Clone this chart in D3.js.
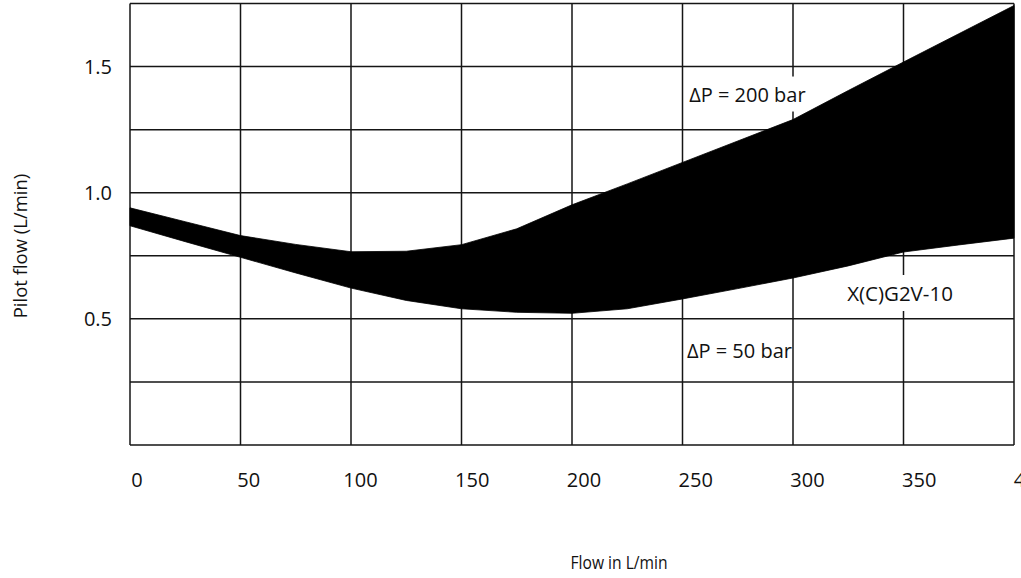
<!DOCTYPE html>
<html>
<head>
<meta charset="utf-8">
<script src="https://cdn.jsdelivr.net/npm/d3@7"></script>
<style>
  html, body { margin: 0; padding: 0; background: #fff; }
  svg { display: block; }
  text { font-family: "Open Sans", "Noto Sans", sans-serif; fill: #111; }
</style>
</head>
<body>
<svg id="chart" width="1021" height="578"></svg>
<script>
// ---- data ----
const flow = [0, 25, 50, 75, 100, 125, 150, 175, 200, 225, 250, 275, 300, 325, 350, 375, 400];
const pilot200 = [0.94, 0.885, 0.83, 0.795, 0.766, 0.768, 0.794, 0.857, 0.952, 1.035, 1.12, 1.205, 1.29, 1.405, 1.518, 1.63, 1.742];
const pilot50  = [0.869, 0.806, 0.744, 0.682, 0.622, 0.573, 0.540, 0.526, 0.522, 0.540, 0.579, 0.62, 0.662, 0.71, 0.765, 0.793, 0.82];
const xTicks = [0, 50, 100, 150, 200, 250, 300, 350, 400];
const yGrid = [0, 0.25, 0.5, 0.75, 1.0, 1.25, 1.5, 1.75];
const yTickLabels = [0.5, 1.0, 1.5];
const labels = [
  { text: "ΔP = 200 bar", x: 253, y: 1.39, box: true },
  { text: "X(C)G2V-10", x: 324.5, y: 0.6, box: true },
  { text: "ΔP = 50 bar", x: 252, y: 0.375, box: false }
];

// ---- layout ----
const svg = d3.select("#chart");
const x = d3.scaleLinear().domain([0, 400]).range([130, 1014]);
const y = d3.scaleLinear().domain([0, 1.75]).range([445, 3.5]);
const xLab = d3.scaleLinear().domain([0, 400]).range([137, 1031]);
const lineColor = "#151515";

// grid
const grid = svg.append("g");
grid.selectAll("line.v").data(xTicks).enter().append("line")
  .attr("x1", d => x(d)).attr("x2", d => x(d))
  .attr("y1", y(0)).attr("y2", y(1.75))
  .attr("stroke", lineColor).attr("stroke-width", 1.5);
grid.selectAll("line.h").data(yGrid).enter().append("line")
  .attr("x1", x(0)).attr("x2", x(400))
  .attr("y1", d => y(d)).attr("y2", d => y(d))
  .attr("stroke", lineColor).attr("stroke-width", 1.5);

// annotation labels
const fs = 20;
const texts = labels.map(l => {
  const t = svg.append("text")
    .attr("x", x(l.x)).attr("y", y(l.y))
    .attr("dy", "0.36em")
    .attr("font-size", l.box && l.text.startsWith("X") ? 20.5 : fs)
    .text(l.text);
  return { l, t };
});

// band
const area = d3.area()
  .x((d, i) => x(flow[i]))
  .y0((d, i) => y(pilot50[i]))
  .y1((d, i) => y(pilot200[i]))
  .curve(d3.curveLinear);
svg.insert("path", "text")
  .datum(flow)
  .attr("d", area)
  .attr("fill", "#000")
  .attr("stroke", "#000")
  .attr("stroke-width", 0.8);

// white boxes behind boxed labels (below band)
texts.forEach(({ l, t }) => {
  if (!l.box) return;
  const bb = t.node().getBBox();
  svg.insert("rect", "path")
    .attr("x", bb.x - 4).attr("y", bb.y - 4)
    .attr("width", bb.width + 8).attr("height", bb.height + 8)
    .attr("fill", "#fff");
});

// y tick labels
svg.append("g").selectAll("text").data(yTickLabels).enter().append("text")
  .attr("x", 112).attr("y", d => y(d)).attr("dy", "0.36em")
  .attr("text-anchor", "end").attr("font-size", fs)
  .text(d => d3.format(".1f")(d));

// x tick labels
svg.append("g").selectAll("text").data(xTicks).enter().append("text")
  .attr("x", d => xLab(d)).attr("y", 487)
  .attr("text-anchor", "middle").attr("font-size", fs)
  .text(d => d);

// axis titles
svg.append("text")
  .attr("x", 619).attr("y", 569)
  .attr("text-anchor", "middle").attr("font-size", 17.5)
  .attr("textLength", 97).attr("lengthAdjust", "spacingAndGlyphs")
  .text("Flow in L/min");
svg.append("text")
  .attr("transform", "translate(27,246) rotate(-90)")
  .attr("text-anchor", "middle").attr("font-size", 18.5)
  .text("Pilot flow (L/min)");
</script>
</body>
</html>
